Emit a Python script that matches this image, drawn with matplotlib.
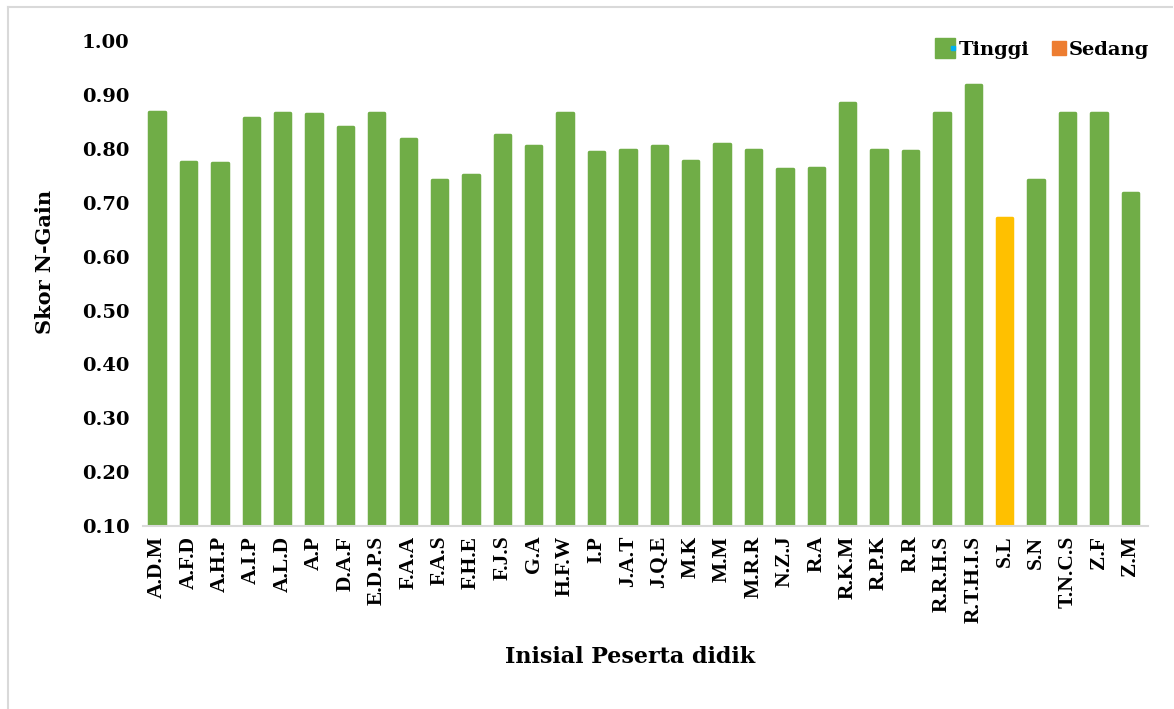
import matplotlib
matplotlib.use("Agg")
import matplotlib.pyplot as plt
from matplotlib.lines import Line2D
from matplotlib.legend_handler import HandlerTuple

categories = ["A.D.M", "A.F.D", "A.H.P", "A.I.P", "A.L.D", "A.P", "D.A.F", "E.D.P.S",
              "F.A.A", "F.A.S", "F.H.E", "F.J.S", "G.A", "H.F.W", "I.P", "J.A.T",
              "J.Q.E", "M.K", "M.M", "M.R.R", "N.Z.J", "R.A", "R.K.M", "R.P.K",
              "R.R", "R.R.H.S", "R.T.H.I.S", "S.L", "S.N", "T.N.C.S", "Z.F", "Z.M"]
values = [0.868, 0.775, 0.773, 0.858, 0.866, 0.864, 0.840, 0.866,
          0.818, 0.742, 0.751, 0.825, 0.806, 0.866, 0.794, 0.798,
          0.806, 0.778, 0.809, 0.798, 0.762, 0.764, 0.885, 0.798,
          0.796, 0.866, 0.918, 0.671, 0.742, 0.866, 0.866, 0.718]
category_class = ["Tinggi"] * 27 + ["Sedang"] + ["Tinggi"] * 4
yticks = [0.10, 0.20, 0.30, 0.40, 0.50, 0.60, 0.70, 0.80, 0.90, 1.00]

GREEN = "#70AD47"
YELLOW = "#FFC000"
ORANGE = "#ED7D31"
colors = [GREEN if c == "Tinggi" else YELLOW for c in category_class]

fig = plt.figure(figsize=(11.74, 7.09), dpi=100)
ax = fig.add_axes([0.122, 0.258, 0.856, 0.684])

x = list(range(len(categories)))
bars = ax.bar(x, [v - 0.10 for v in values], bottom=0.10, width=0.49, color=colors,
              edgecolor=colors, linewidth=2.5, zorder=2)
for b in bars:
    b.set_joinstyle("round")

ax.set_ylim(0.10, 1.00)
ax.set_xlim(-0.44, 31.57)
ax.set_yticks(yticks)
ax.set_yticklabels([f"{t:.2f}" for t in yticks], fontfamily="DejaVu Serif",
                   fontweight="bold", fontsize=14)
ax.set_xticks(x)
ax.set_xticklabels(categories, rotation=90, fontfamily="Liberation Serif",
                   fontweight="bold", fontsize=15.5)
ax.tick_params(axis="x", length=0, pad=7)
ax.tick_params(axis="y", length=0, pad=10)
for s in ["left", "right", "top"]:
    ax.spines[s].set_visible(False)
ax.spines["bottom"].set_color("#D9D9D9")
ax.spines["bottom"].set_linewidth(1.5)
ax.spines["bottom"].set_zorder(3)

fig.text(0.038, 0.63, "Skor N-Gain", rotation=90, ha="center", va="center",
         fontfamily="DejaVu Serif", fontweight="bold", fontsize=15)
fig.text(0.537, 0.073, "Inisial Peserta didik", ha="center", va="center",
         fontfamily="DejaVu Serif", fontweight="bold", fontsize=16)

h_tinggi = (Line2D([], [], marker="s", linestyle="none", markersize=14,
                   markerfacecolor=GREEN, markeredgecolor=GREEN),
            Line2D([], [], marker="s", linestyle="none", markersize=2.5,
                   markerfacecolor="#00B0F0", markeredgecolor="#00B0F0"))
h_sedang = Line2D([], [], marker="s", linestyle="none", markersize=10,
                  markerfacecolor=ORANGE, markeredgecolor=ORANGE)
fig.legend([h_tinggi, h_sedang], ["Tinggi", "Sedang"],
           handler_map={tuple: HandlerTuple(ndivide=None, pad=0)},
           loc="center right", bbox_to_anchor=(0.994, 0.930), ncol=2,
           frameon=False, handlelength=0.8, handletextpad=0.1, columnspacing=1.15,
           prop={"family": "DejaVu Serif", "weight": "bold", "size": 14})

fig.add_artist(Line2D([0.0065, 0.0065], [0.0, 0.99], transform=fig.transFigure,
                      color="#D9D9D9", linewidth=1.5))
fig.add_artist(Line2D([0.0065, 0.998], [0.99, 0.99], transform=fig.transFigure,
                      color="#D9D9D9", linewidth=1.5))

fig.savefig("out.png", dpi=100, facecolor="white")
